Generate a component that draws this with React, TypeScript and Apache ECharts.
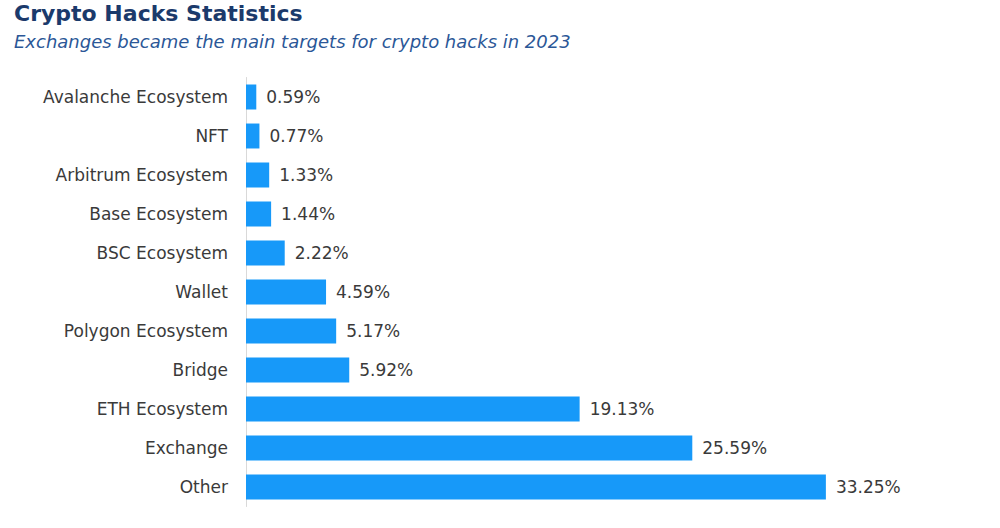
import React, { useEffect, useRef } from "react";
import * as echarts from "echarts";

const categories = [
  "Avalanche Ecosystem",
  "NFT",
  "Arbitrum Ecosystem",
  "Base Ecosystem",
  "BSC Ecosystem",
  "Wallet",
  "Polygon Ecosystem",
  "Bridge",
  "ETH Ecosystem",
  "Exchange",
  "Other",
];
const values = [0.59, 0.77, 1.33, 1.44, 2.22, 4.59, 5.17, 5.92, 19.13, 25.59, 33.25];

const FONT = "DejaVu Sans";

export default function App() {
  const ref = useRef<HTMLDivElement>(null);
  useEffect(() => {
    if (!ref.current) return;
    const chart = echarts.init(ref.current, undefined, { renderer: "svg" });
    chart.setOption({
      animation: false,
      backgroundColor: "#ffffff",
      title: {
        text: "Crypto Hacks Statistics",
        subtext: "Exchanges became the main targets for crypto hacks in 2023",
        left: 14,
        top: 2,
        padding: 0,
        itemGap: 8,
        textStyle: { fontFamily: FONT, fontSize: 22, fontWeight: "bold", color: "#1b3a6b" },
        subtextStyle: { fontFamily: FONT, fontSize: 18, fontStyle: "italic", color: "#2b5797" },
      },
      grid: { left: 246, top: 77.5, width: 697.6, height: 429, containLabel: false },
      xAxis: {
        type: "value",
        min: 0,
        max: 40,
        show: false,
      },
      yAxis: {
        type: "category",
        data: categories,
        inverse: true,
        axisLine: { show: true, lineStyle: { color: "#d9d9d9", width: 1 } },
        axisTick: { show: false },
        axisLabel: { fontFamily: FONT, fontSize: 17, color: "#3a3a3a", margin: 18 },
      },
      series: [
        {
          type: "bar",
          data: values,
          barCategoryGap: "36%",
          itemStyle: { color: "#1799f9" },
          label: {
            show: true,
            position: "right",
            distance: 10,
            formatter: (p: any) => p.value.toFixed(2) + "%",
            fontFamily: FONT,
            fontSize: 17,
            color: "#3a3a3a",
          },
        },
      ],
    });
    return () => chart.dispose();
  }, []);
  return (
    <div
      ref={ref}
      style={{ position: "absolute", left: 0, top: 0, width: 1000, height: 528 }}
    />
  );
}
